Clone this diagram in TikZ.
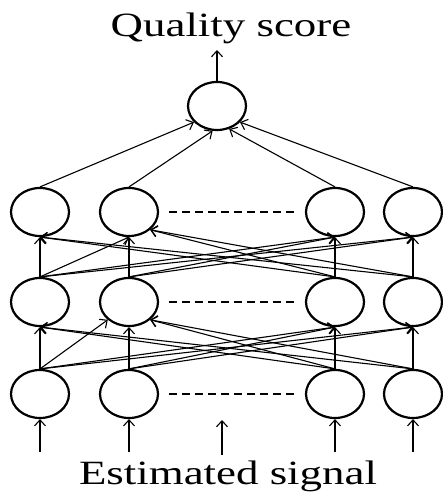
\documentclass[tikz,border=0pt]{standalone}
\usepackage{fontspec}
\setmainfont{Liberation Serif}
\usetikzlibrary{shapes.geometric,arrows.meta}
\tikzset{
  neuron/.style={ellipse,draw,line width=2.2pt,minimum width=58pt,minimum height=48pt,inner sep=0pt},
  conn/.style={line width=1.1pt,-{Straight Barb[length=6pt,width=11pt,line width=1.1pt]}},
  dotline/.style={line width=1.2pt,dash pattern=on 8pt off 5pt,shorten <=10pt,shorten >=7pt},
  label/.style={font=\fontsize{34}{40}\selectfont,anchor=base,inner sep=0pt}
}
\begin{document}
\begin{tikzpicture}[x=1pt,y=1pt]
\useasboundingbox (0,0) rectangle (443,492);
% output node
\node[neuron] (O) at (217,386) {};
% upper hidden row
\node[neuron] (U1) at (40,280) {};
\node[neuron] (U2) at (129,280) {};
\node[neuron] (U3) at (335,280) {};
\node[neuron] (U4) at (413,280) {};
% middle hidden row
\node[neuron] (M1) at (40,190) {};
\node[neuron] (M2) at (129,190) {};
\node[neuron] (M3) at (335,190) {};
\node[neuron] (M4) at (413,190) {};
% input row
\node[neuron] (B1) at (40,98) {};
\node[neuron] (B2) at (129,98) {};
\node[neuron] (B3) at (335,98) {};
\node[neuron] (B4) at (413,98) {};
% dashed fillers
\draw[dotline] (U2.east) -- (U3.west);
\draw[dotline] (M2.east) -- (M3.west);
\draw[dotline] (B2.east) -- (B3.west);
% texts
\node[label] (title) at (231,455) {\scalebox{1.32}[1]{Quality score}};
\node[label] (sig) at (228,7) {\scalebox{1.32}[1]{Estimated signal}};
% output arrow
\coordinate (top) at (217,442);
\draw[conn] (O.north) -- (top);
% upper row -> output
\draw[conn] (U1.north) -- (O.-145);
\draw[conn] (U2.north) -- (O.-100);
\draw[conn] (U3.north) -- (O.-62);
\draw[conn] (U4.north) -- (O.-35);
% middle -> upper
\draw[conn] (M1.north) -- (U1.south);
\draw[conn] (M1.north) -- (U2.south);
\draw[conn] (M1.north) -- (U3.south);
\draw[conn] (M1.north) -- (U4.south);
\draw[conn] (M2.north) -- (U2.south);
\draw[conn] (M2.north) -- (U3.south);
\draw[conn] (M2.north) -- (U4.south);
\draw[conn] (M3.north) -- (U1.south);
\draw[conn] (M3.north) -- (U2.-40);
\draw[conn] (M3.north) -- (U3.south);
\draw[conn] (M4.north) -- (U1.south);
\draw[conn] (M4.north) -- (U2.-40);
\draw[conn] (M4.north) -- (U4.south);
% input -> middle
\draw[conn] (B1.north) -- (M1.south);
\draw[conn] (B1.north) -- (M2.-140);
\draw[conn] (B1.north) -- (M3.south);
\draw[conn] (B1.north) -- (M4.south);
\draw[conn] (B2.north) -- (M2.south);
\draw[conn] (B2.north) -- (M3.south);
\draw[conn] (B2.north) -- (M4.south);
\draw[conn] (B3.north) -- (M1.south);
\draw[conn] (B3.north) -- (M2.-40);
\draw[conn] (B3.north) -- (M3.south);
\draw[conn] (B4.north) -- (M1.south);
\draw[conn] (B4.north) -- (M2.-40);
\draw[conn] (B4.north) -- (M4.south);
% input arrows
\coordinate (i1) at (40,40);
\coordinate (i2) at (129,40);
\coordinate (i3) at (335,40);
\coordinate (i4) at (413,40);
\coordinate (i0) at (222,37);
\coordinate (e0) at (222,72);
\draw[conn] (i1) -- (B1.south);
\draw[conn] (i2) -- (B2.south);
\draw[conn] (i3) -- (B3.south);
\draw[conn] (i4) -- (B4.south);
\draw[conn] (i0) -- (e0);
\end{tikzpicture}
\end{document}
